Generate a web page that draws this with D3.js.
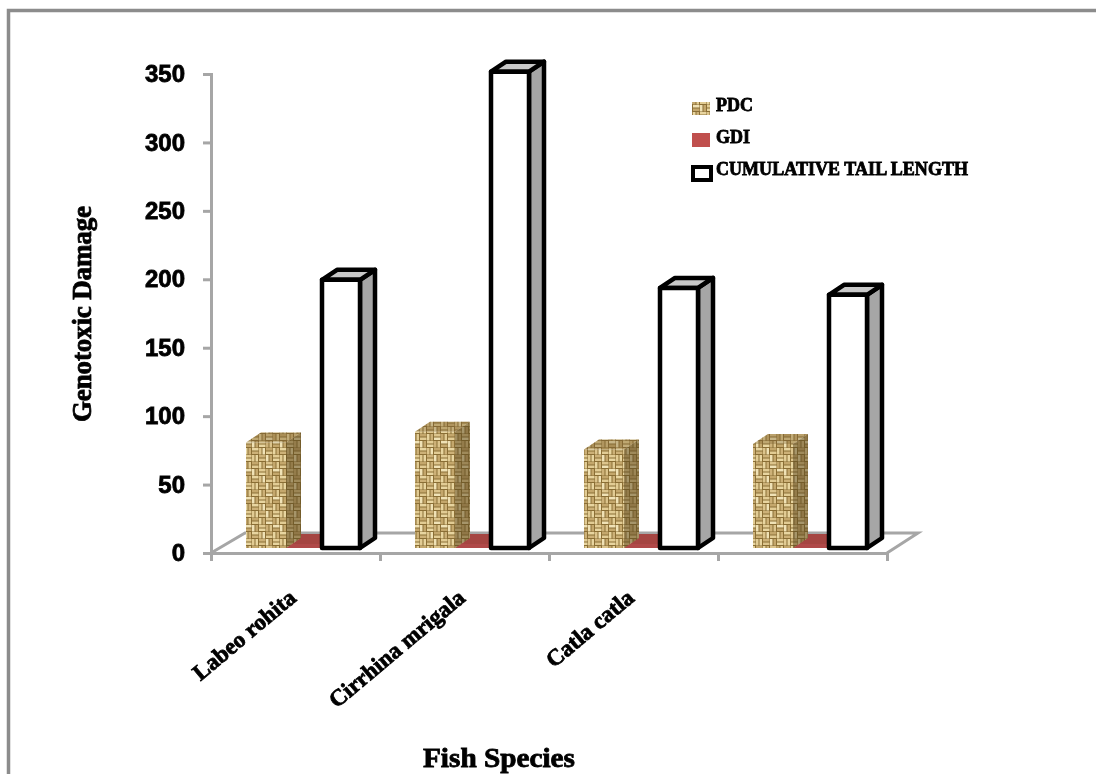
<!DOCTYPE html>
<html>
<head>
<meta charset="utf-8">
<script src="https://cdn.jsdelivr.net/npm/d3@7"></script>
<style>
	html, body { margin: 0; padding: 0; background: #fff; }
	svg { display: block; }
	.title, .legend text, .cat { font-family: "Liberation Serif", serif; font-weight: bold; fill: #000; stroke: #000; stroke-width: 0.8; }
	.axis text { font-family: "Liberation Sans", sans-serif; font-weight: bold; font-size: 24px; fill: #000; stroke: #000; stroke-width: 0.8; }
	.axis path, .axis line { stroke: #a6a6a6; stroke-width: 3; fill: none; }
</style>
</head>
<body>
<div id="chart"></div>
<script>
const categories = ["Labeo rohita", "Cirrhina mrigala", "Catla catla", ""];
const seriesNames = ["PDC", "GDI", "CUMULATIVE TAIL LENGTH"];
const pdc = [77, 85, 72, 76];
const gdi = [3, 3, 3, 3];
const tailLength = [196, 348, 190, 185];
const yTicks = [0, 50, 100, 150, 200, 250, 300, 350];

const width = 1096, height = 774;
const depth = { x: 15, y: -10 };
const floorLift = 5;

let svg = d3.select("#chart").append("svg")
	.attr("width", width)
	.attr("height", height);

let defs = svg.append("defs");
defs.append("filter").attr("id", "soft")
	.attr("filterUnits", "userSpaceOnUse")
	.attr("x", 0).attr("y", 0).attr("width", width).attr("height", height)
	.append("feGaussianBlur").attr("stdDeviation", 0.6);

// basket weave texture for the PDC bars and its legend key
const cell = 7;
const shades = ["#e8d5a0", "#cdb178", "#dcc48c", "#f0e2b6", "#c4a76c", "#e2cc94"];
let weave = defs.append("pattern").attr("id", "weave")
	.attr("patternUnits", "userSpaceOnUse")
	.attr("width", cell * 4).attr("height", cell * 4);
weave.append("rect").attr("width", cell * 4).attr("height", cell * 4).attr("fill", "#8a6e36");
d3.range(4).forEach(row => d3.range(4).forEach(col => {
	let flat = (row + col) % 2 == 0;
	d3.range(2).forEach(k => {
		weave.append("rect")
			.attr("x", col * cell + (flat ? 0 : k * 3.5))
			.attr("y", row * cell + (flat ? k * 3.5 : 0))
			.attr("width", flat ? cell - 0.5 : 2.5)
			.attr("height", flat ? 2.5 : cell - 0.5)
			.attr("fill", shades[(row * 5 + col * 2 + k) % 6]);
	});
}));

let root = svg.append("g").attr("filter", "url(#soft)");

// picture frame, open on the right and at the bottom
root.append("path")
	.attr("d", `M8.5,${height} V10.5 H${width}`)
	.attr("fill", "none")
	.attr("stroke", "#8c8c8c")
	.attr("stroke-width", 3.5);

let x = d3.scaleLinear().domain([0, categories.length]).range([211, 887]);
let y = d3.scaleLinear().domain([0, 350]).range([553, 74]);
let inner = d3.scaleBand().domain(seriesNames).range([35, 149]);

// floor of the 3D plot
root.append("path")
	.attr("d", `M${x(0)},${y(0)} L${x(0) + 34},${y(0) - 20} H${x(4) + 31} L${x(4)},${y(0)}`)
	.attr("fill", "none")
	.attr("stroke", "#a6a6a6")
	.attr("stroke-width", 3);

root.append("g")
	.attr("class", "axis y")
	.attr("transform", `translate(${x(0)},0)`)
	.call(d3.axisLeft(y).tickValues(yTicks).tickSize(8).tickSizeOuter(8).tickPadding(18));

root.append("g")
	.attr("class", "axis x")
	.attr("transform", `translate(0,${y(0)})`)
	.call(d3.axisBottom(x).tickValues(d3.range(categories.length + 1)).tickFormat("").tickSize(8));

function bar3d(g, left, w, value, faces) {
	let top = y(value) - floorLift;
	let bottom = y(0) - floorLift;
	let s = faces.stroke ? { stroke: faces.stroke, w: faces.strokeWidth } : { stroke: "none", w: 0 };
	let paths = [
		[faces.side, `M${left + w},${top} l${depth.x},${depth.y} V${bottom + depth.y} l${-depth.x},${-depth.y} Z`],
		[faces.top, `M${left},${top} l${depth.x},${depth.y} h${w} l${-depth.x},${-depth.y} Z`],
		[faces.front, `M${left},${top} h${w} V${bottom} h${-w} Z`]
	];
	paths.forEach(p => {
		g.append("path")
			.attr("d", p[1])
			.attr("fill", p[0])
			.attr("stroke", s.stroke)
			.attr("stroke-width", s.w)
			.attr("stroke-linejoin", "round");
	});
}

let bars = root.append("g").attr("class", "bars");

categories.forEach((c, i) => {
	let g = bars.append("g");
	let base = x(i);
	bar3d(g, base + inner("GDI") - 3, inner.bandwidth() + 3, gdi[i], { front: "#b04a48", top: "#a54442", side: "#8f3a38" });
	let pdcG = g.append("g");
	bar3d(pdcG, base + inner("PDC"), inner.bandwidth() + 2, pdc[i], { front: "url(#weave)", top: "url(#weave)", side: "url(#weave)" });
	// darker shade over the side and top of the textured bar
	let left = base + inner("PDC"), w = inner.bandwidth() + 2, top = y(pdc[i]) - floorLift;
	pdcG.append("path")
		.attr("d", `M${left + w},${top} l${depth.x},${depth.y} V${y(0) - floorLift + depth.y} l${-depth.x},${-depth.y} Z`)
		.attr("fill", "#5c4720")
		.attr("fill-opacity", 0.5);
	pdcG.append("path")
		.attr("d", `M${left},${top} l${depth.x},${depth.y} h${w} l${-depth.x},${-depth.y} Z`)
		.attr("fill", "#7a6230")
		.attr("fill-opacity", 0.35);
	bar3d(g, base + inner(seriesNames[2]), inner.bandwidth(), tailLength[i], { front: "#fff", top: "#c8c8c8", side: "#a6a6a6", stroke: "#000", strokeWidth: 4.5 });
});

// category labels
root.append("g").selectAll("text")
	.data(categories)
	.join("text")
	.attr("class", "cat")
	.attr("font-size", 23)
	.attr("text-anchor", "end")
	.attr("transform", (d, i) => `translate(${x(i + 0.5) + 2},600) rotate(-40)`)
	.text(d => d);

root.append("text")
	.attr("class", "title")
	.attr("font-size", 27)
	.attr("text-anchor", "middle")
	.attr("textLength", 216)
	.attr("transform", `translate(91,314) rotate(-90)`)
	.text("Genotoxic Damage");

root.append("text")
	.attr("class", "title")
	.attr("font-size", 27)
	.attr("text-anchor", "middle")
	.attr("textLength", 152)
	.attr("lengthAdjust", "spacingAndGlyphs")
	.attr("x", 499)
	.attr("y", 767)
	.text("Fish Species");

// legend
let legendY = d3.scalePoint().domain(seriesNames).range([109, 173]);
let legend = root.append("g").attr("class", "legend");
legend.selectAll("text")
	.data(seriesNames)
	.join("text")
	.attr("x", 716)
	.attr("y", d => legendY(d) + 2)
	.attr("font-size", 18)
	.attr("textLength", (d, i) => i == 2 ? 252 : null)
	.text(d => d);
legend.append("rect").attr("x", 692).attr("y", legendY("PDC") - 7).attr("width", 18).attr("height", 13).attr("fill", "url(#weave)");
legend.append("rect").attr("x", 692).attr("y", legendY("GDI") - 8).attr("width", 18).attr("height", 14).attr("fill", "#c0504d");
legend.append("rect").attr("x", 693).attr("y", legendY(seriesNames[2]) - 6).attr("width", 18).attr("height", 13).attr("fill", "#fff").attr("stroke", "#000").attr("stroke-width", 4);
</script>
</body>
</html>
